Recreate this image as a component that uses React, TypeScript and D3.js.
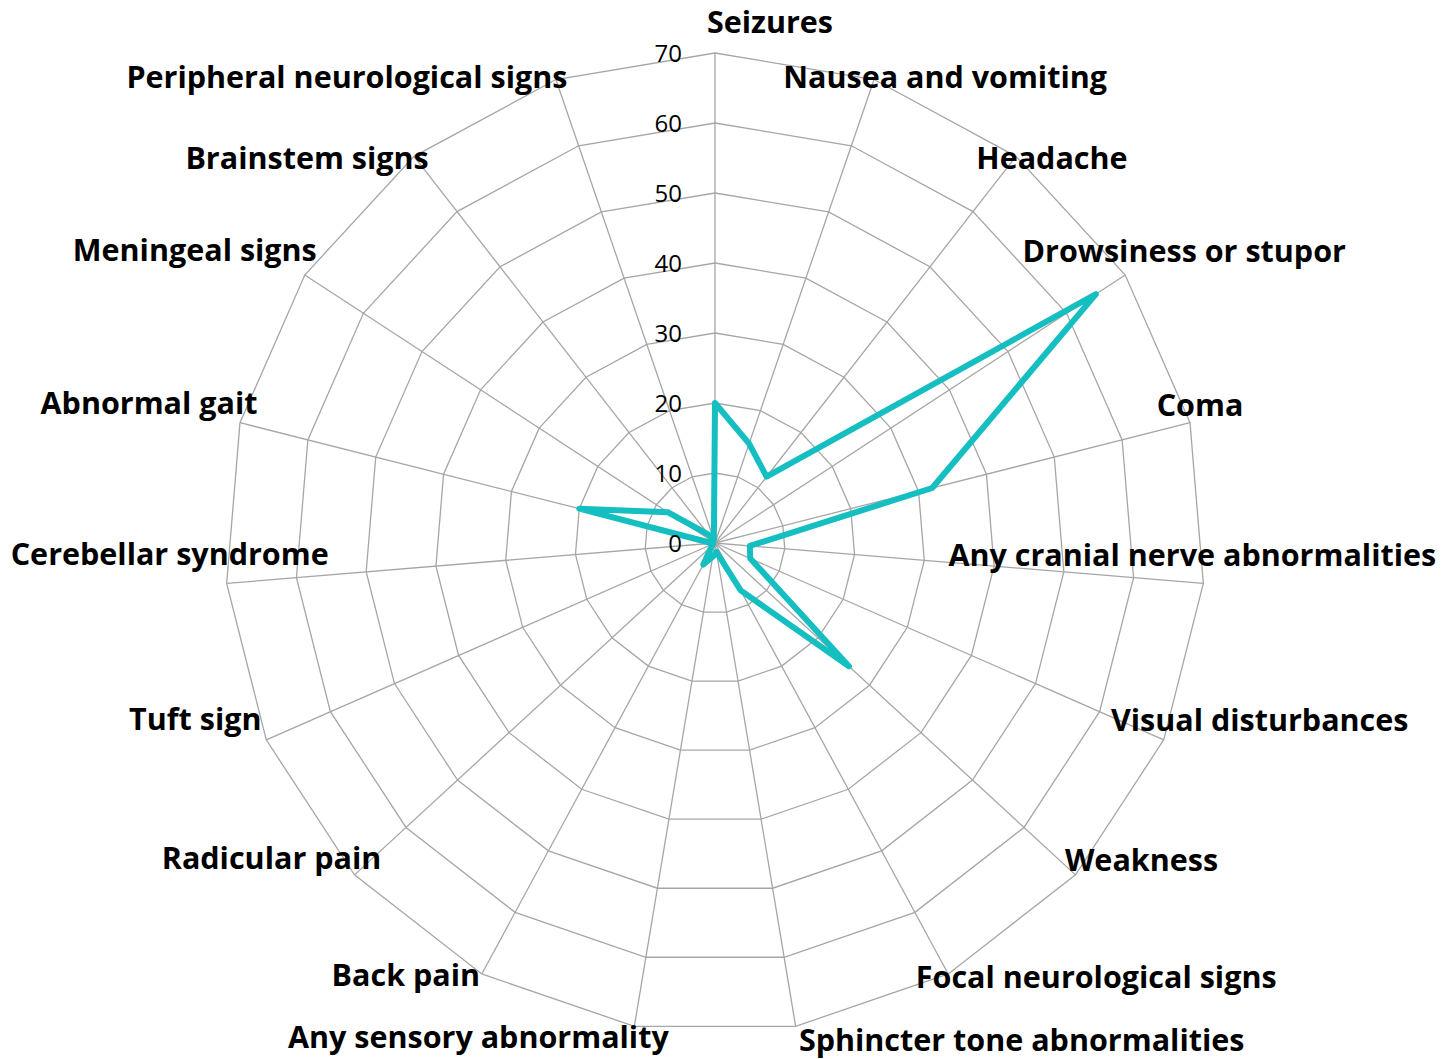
import React from "react";
import * as d3 from "d3";

const categories: string[] = [
  "Seizures",
  "Nausea and vomiting",
  "Headache",
  "Drowsiness or stupor",
  "Coma",
  "Any cranial nerve abnormalities",
  "Visual disturbances",
  "Weakness",
  "Focal neurological signs",
  "Sphincter tone abnormalities",
  "Any sensory abnormality",
  "Back pain",
  "Radicular pain",
  "Tuft sign",
  "Cerebellar syndrome",
  "Abnormal gait",
  "Meningeal signs",
  "Brainstem signs",
  "Peripheral neurological signs",
];

const values: number[] = [
  20, 15, 12, 65, 32, 5, 5.5, 26, 7.7, 1.3, 2, 3.5, 0.6, 0.3, 0.4, 20, 8, 1.5, 0.5,
];

const tickValues: number[] = [0, 10, 20, 30, 40, 50, 60, 70];

// layout: label centre offset from the axis end point [dx, dy]
const labelNudge: [number, number][] = [
  [55, -31], [71, -3], [36, 2], [59, -24], [10, -18], [-11, -28], [96, -20],
  [66, -15], [148, 3], [226, 14], [-156, 11], [-76, 1], [-83, -17], [-71, -21],
  [-57, -29], [-91, -20], [-110, -25], [-107, 2], [-209, -3],
];

const W = 1455;
const H = 1059;
const CX = 715;
const CY = 543;
const RMAX = 490;
const TEAL = "#15BEC1";
const GRID = "#a6a6a6";
const FONT = "'Open Sans', Lato, sans-serif";

export default function App() {
  const n = categories.length;
  const step = (2 * Math.PI) / n;
  const r = d3.scaleLinear().domain([0, 70]).range([0, RMAX]);

  const ringPath = (v: number) =>
    d3
      .lineRadial<number>()
      .angle((_, i) => i * step)
      .radius(() => r(v))
      .curve(d3.curveLinearClosed)(categories.map(() => v)) || "";

  const seriesPath =
    d3
      .lineRadial<number>()
      .angle((_, i) => i * step)
      .radius((d) => r(d))
      .curve(d3.curveLinearClosed)(values) || "";

  return (
    <svg
      width={W}
      height={H}
      style={{ position: "absolute", left: 0, top: 0, background: "#fff" }}
    >
      <g transform={`translate(${CX},${CY})`}>
        {tickValues
          .filter((v) => v > 0)
          .map((v) => (
            <path key={v} d={ringPath(v)} fill="none" stroke={GRID} strokeWidth={1.3} />
          ))}
        {categories.map((c, i) => {
          const a = i * step;
          return (
            <line
              key={c}
              x1={0}
              y1={0}
              x2={r(70) * Math.sin(a)}
              y2={-r(70) * Math.cos(a)}
              stroke={GRID}
              strokeWidth={1.3}
            />
          );
        })}
        <path
          d={seriesPath}
          fill="none"
          stroke={TEAL}
          strokeWidth={6}
          strokeLinejoin="round"
        />
        {tickValues.map((v) => (
          <text
            key={v}
            x={-33}
            y={-r(v) + 8.5}
            textAnchor="end"
            fontFamily={FONT}
            fontSize={24}
            fill="#000"
          >
            {v}
          </text>
        ))}
        {categories.map((c, i) => {
          const a = i * step;
          const ex = r(70) * Math.sin(a);
          const ey = -r(70) * Math.cos(a);
          const [dx, dy] = labelNudge[i];
          return (
            <text
              key={c}
              x={ex + dx}
              y={ey + dy + 11}
              textAnchor="middle"
              fontFamily={FONT}
              fontWeight={700}
              fontSize={30.5}
              fill="#000"
            >
              {c}
            </text>
          );
        })}
      </g>
    </svg>
  );
}
